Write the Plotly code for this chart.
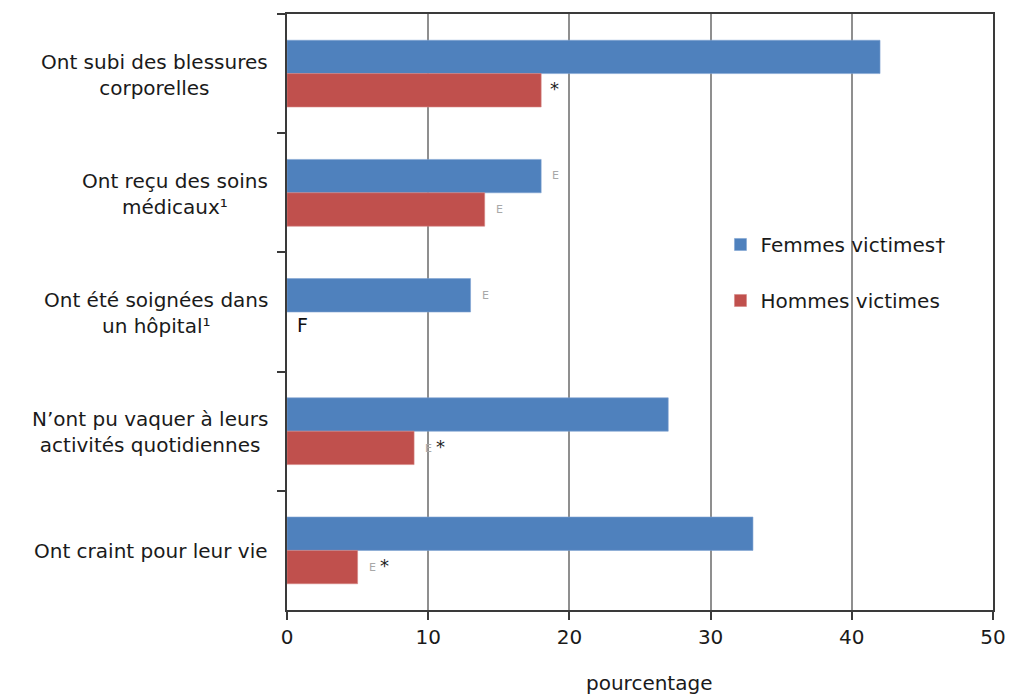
import plotly.graph_objects as go

# Categories (top to bottom)
categories = [
    "Ont subi des blessures<br>corporelles",
    "Ont reçu des soins<br>médicaux¹",
    "Ont été soignées dans<br>un hôpital¹",
    "N’ont pu vaquer à leurs<br>activités quotidiennes",
    "Ont craint pour leur vie",
]

# Percentages
femmes = [42, 18, 13, 27, 33]
hommes = [18, 14, None, 9, 5]

# Quality flags shown beside bars ("E" = use with caution, "*" = significant difference)
femmes_flags = ["", "E", "E", "", ""]
hommes_flags = ["*", "E", "F", "E*", "E*"]

x_ticks = [0, 10, 20, 30, 40, 50]

BLUE = "#4F81BD"
RED = "#C0504D"
FONT = "DejaVu Sans"
TEXT = "#1a1a1a"

fig = go.Figure()
fig.add_trace(go.Bar(
    y=categories, x=femmes, orientation="h", name="Femmes victimes†",
    marker=dict(color=BLUE, line=dict(color="#7FA3D2", width=0.6)),
    legendgroup="f",
))
fig.add_trace(go.Bar(
    y=categories, x=hommes, orientation="h", name="Hommes victimes",
    marker=dict(color=RED, line=dict(color="#D58583", width=0.6)),
    legendgroup="h",
))

annotations = []
# Category labels, lines centred on each other, to the left of the axis
for cat in categories:
    annotations.append(dict(
        x=0, xref="paper", y=cat, yref="y", text=cat, showarrow=False,
        xanchor="right", align="center", xshift=-17, yshift=-1,
        font=dict(family=FONT, size=20, color=TEXT),
    ))


def flag_annotations(values, flags, yshift):
    for cat, v, flag in zip(categories, values, flags):
        if not flag:
            continue
        if flag == "F":
            annotations.append(dict(
                x=0, y=cat, text="F", showarrow=False, xanchor="left",
                xshift=8, yshift=yshift + 4,
                font=dict(family=FONT, size=19, color="#111"),
            ))
            continue
        if "E" in flag:
            annotations.append(dict(
                x=v, y=cat, text="E", showarrow=False, xanchor="left",
                xshift=9, yshift=yshift,
                font=dict(family=FONT, size=11, color="#a8a8a8"),
            ))
        if "*" in flag:
            annotations.append(dict(
                x=v, y=cat, text="*", showarrow=False, xanchor="left",
                xshift=20 if "E" in flag else 7, yshift=yshift + 2,
                font=dict(family=FONT, size=18, color="#222"),
            ))


flag_annotations(femmes, femmes_flags, 17)
flag_annotations(hommes, hommes_flags, -17)

# Axis title
annotations.append(dict(
    x=0.513, xref="paper", y=-0.122, yref="paper", text="pourcentage",
    showarrow=False, xanchor="center", yanchor="middle",
    font=dict(family=FONT, size=20, color=TEXT),
))

fig.update_layout(
    width=1018, height=694,
    margin=dict(l=287, r=16, t=12, b=84),
    paper_bgcolor="white", plot_bgcolor="white",
    barmode="group", bargap=0.44, bargroupgap=0,
    font=dict(family=FONT, size=20, color=TEXT),
    annotations=annotations,
    showlegend=True,
    legend=dict(
        x=0.614, y=0.646, xanchor="left", yanchor="top",
        bgcolor="rgba(0,0,0,0)", tracegroupgap=27,
        itemwidth=30, font=dict(family=FONT, size=20, color=TEXT),
    ),
    xaxis=dict(
        range=[0, 50], tickvals=x_ticks, ticktext=[str(t) for t in x_ticks],
        showgrid=True, gridcolor="#8f8f8f", gridwidth=1.5,
        showline=True, linecolor="#3a3a3a", linewidth=1.5, mirror=True,
        ticks="outside", ticklen=8, tickcolor="#3a3a3a", tickwidth=1.5,
        zeroline=False,
        tickfont=dict(family=FONT, size=20),
    ),
    yaxis=dict(
        autorange="reversed", showticklabels=False,
        showline=True, linecolor="#3a3a3a", linewidth=1.5, mirror=True,
        ticks="outside", ticklen=8, tickcolor="#3a3a3a", tickwidth=1.5,
        tickson="boundaries", showgrid=False,
    ),
)

fig.write_html("out.html")
